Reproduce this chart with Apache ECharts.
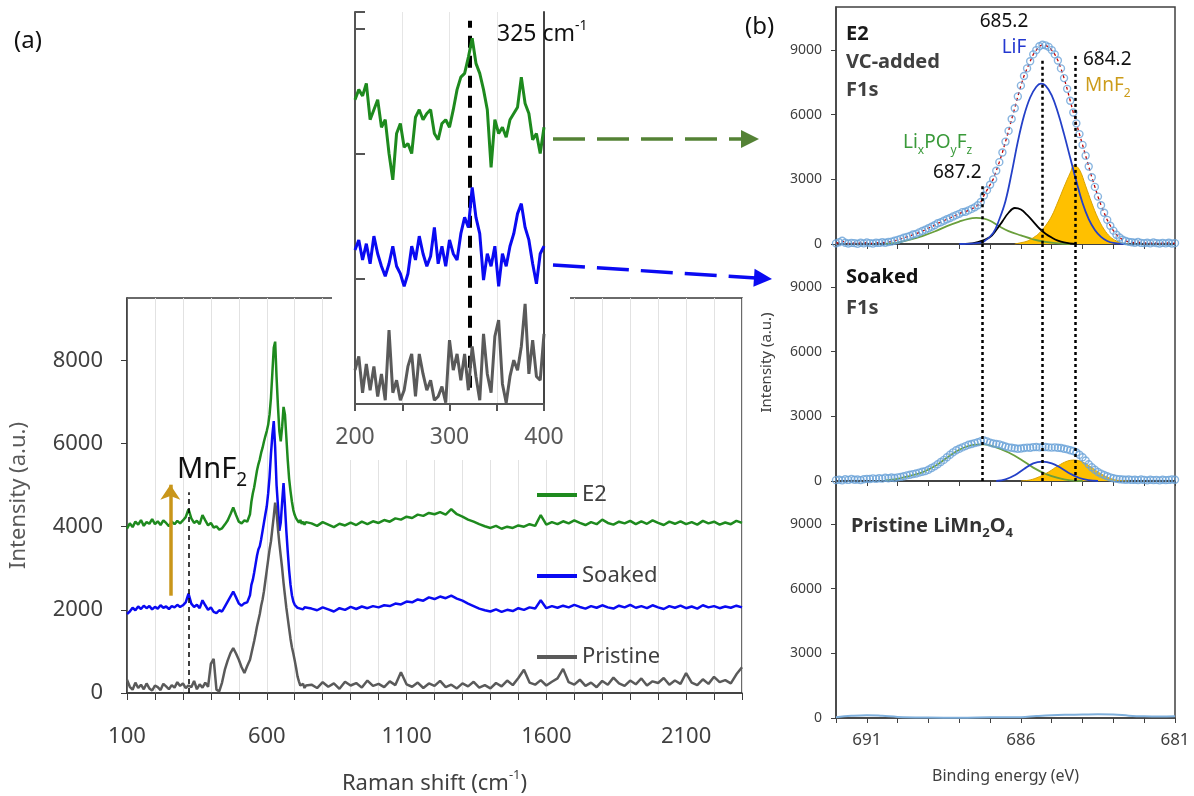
<!DOCTYPE html>
<html>
<head>
<meta charset="utf-8">
<title>Raman / F1s XPS</title>
<script src="https://cdn.jsdelivr.net/npm/echarts@6/dist/echarts.min.js"></script>
<style>
html, body { margin: 0; padding: 0; background: #fff; }
#chart { width: 1194px; height: 796px; }
</style>
</head>
<body>
<div id="chart"></div>
<script>
// sampling grids
function seq(from, to, step) {
  const out = []
  for (let v = from; v <= to + 1e-9; v += step) out.push(Math.round(v * 100) / 100)
  return out
}
const ramanShift = [].concat(seq(100, 540, 10), seq(545, 740, 5), seq(760, 2300, 20))
const insetShift = seq(200, 400, 4)
const bindingEnergy = seq(0, 110, 1).map(i => (6920 - i * 1) / 10)

// Raman intensities, (a) main plot: low range / Mn-O band / high range
const e2Low = [3950, 4080, 3990, 4120, 4050, 4160, 4020, 4110, 4070, 4180,
  4060, 4130, 4040, 4150, 4090, 4010, 4120, 4060, 4140, 4080,
  4150, 4230, 4420, 4200, 4090, 4140, 4060, 4280, 4150, 4030,
  4090, 3980, 4010, 3930, 3960, 4050, 4150, 4300, 4460, 4280,
  4120, 4080, 4150, 4120, 4300]
const e2Band = [4600, 4800, 4950, 5150, 5350, 5500, 5620, 5780, 5900, 6050,
  6180, 6300, 6450, 6700, 7100, 7700, 8300, 8450, 7600, 6900,
  6300, 6050, 6400, 6880, 6700, 6150, 5600, 5150, 4850, 4600,
  4400, 4280, 4200, 4150, 4100, 4160, 4070, 4120, 4050, 4110]
const e2High = [4080, 4020, 4110, 4050, 3990, 4070, 4030, 4100, 4040, 4120,
  4060, 4130, 4090, 4160, 4120, 4200, 4170, 4240, 4210, 4290,
  4260, 4330, 4300, 4350, 4290, 4420, 4300, 4240, 4170, 4120,
  4060, 4010, 3970, 4020, 3950, 4000, 3970, 4030, 4000, 4060,
  4020, 4280, 4050, 4110, 4060, 4130, 4080, 4150, 4090, 4040,
  4110, 4060, 4170, 4090, 4050, 4120, 4080, 4140, 4060, 4130,
  4070, 4150, 4090, 4040, 4120, 4070, 4130, 4060, 4110, 4050,
  4140, 4080, 4120, 4050, 4100, 4060, 4140, 4090]

const soakedLow = [1900, 1960, 2050, 1990, 2080, 2020, 2100, 2040, 2090, 2010,
  2070, 2030, 2110, 2050, 2080, 2020, 2090, 2060, 2120, 2070,
  2110, 2180, 2390, 2150, 2070, 2120, 2040, 2230, 2110, 2000,
  2060, 1950, 1920, 1990, 1960, 2080, 2200, 2320, 2440, 2300,
  2150, 2100, 2160, 2180, 2350]
const soakedBand = [2600, 2720, 2900, 3100, 3300, 3450, 3530, 3700, 3900, 4100,
  4300, 4490, 4800, 5200, 5750, 6200, 6540, 5900, 5000, 4500,
  3900, 4100, 4600, 5050, 4500, 3900, 3400, 2950, 2600, 2350,
  2200, 2120, 2080, 2050, 2090, 2030, 2070, 2010, 2060, 2040]
const soakedHigh = [2030, 1990, 2060, 2010, 1960, 2040, 2000, 2070, 2020, 2080,
  2040, 2090, 2060, 2110, 2090, 2150, 2130, 2200, 2180, 2250,
  2220, 2300, 2260, 2320, 2280, 2340, 2270, 2220, 2150, 2090,
  2030, 1990, 1960, 2010, 1950, 2000, 1970, 2040, 2000, 2060,
  2030, 2230, 2040, 2090, 2050, 2100, 2060, 2120, 2070, 2030,
  2090, 2050, 2110, 2060, 2030, 2100, 2060, 2120, 2050, 2090,
  2040, 2110, 2060, 2020, 2090, 2050, 2100, 2040, 2080, 2030,
  2110, 2060, 2090, 2040, 2080, 2050, 2100, 2060]

const pristineLow = [320, 150, 80, 250, 120, 200, 90, 230, 110, 60,
  180, 140, 70, 220, 160, 90, 190, 130, 260, 170,
  230, 120, 180, 140, 290, 90, 210, 130, 250, 150,
  700, 820, 80, 40, 250, 560, 780, 960, 1080, 950,
  800, 620, 480, 650, 800]
const pristineBand = [950, 1100, 1250, 1420, 1600, 1750, 1900, 2100, 2250, 2450,
  2700, 2950, 3200, 3450, 3650, 3950, 4250, 4580, 4350, 3950,
  3600, 3300, 3000, 2650, 2350, 2050, 1800, 1550, 1300, 1100,
  950, 780, 600, 400, 280, 180, 150, 220, 120, 180]
const pristineHigh = [200, 120, 260, 150, 230, 100, 270, 180, 240, 130,
  300, 170, 220, 140, 280, 190, 500, 210, 150, 250,
  120, 230, 170, 290, 140, 200, 110, 230, 160, 270,
  130, 190, 110, 240, 160, 300, 190, 360, 560, 250,
  200, 310, 180, 270, 350, 580, 260, 200, 320, 170,
  250, 140, 290, 200, 370, 230, 170, 300, 210, 350,
  180, 280, 240, 360, 200, 300, 220, 480, 250, 190,
  330, 220, 390, 260, 310, 230, 450, 620]

// inset 200-400 cm-1 (offset, arbitrary units)
const insetE2 = [2.43, 2.51, 2.46, 2.56, 2.27, 2.35, 2.43, 2.21, 2.27, 2.00,
  1.79, 2.16, 2.24, 2.05, 2.08, 2.00, 2.29, 2.35, 2.27, 2.32,
  2.35, 2.16, 2.11, 2.24, 2.27, 2.21, 2.35, 2.51, 2.61, 2.64,
  2.77, 2.92, 2.72, 2.64, 2.51, 2.35, 1.89, 2.27, 2.16, 2.21,
  2.13, 2.27, 2.32, 2.37, 2.61, 2.40, 2.32, 2.11, 2.16, 2.00, 2.21]
const insetSoaked = [1.23, 1.31, 1.15, 1.28, 1.12, 1.34, 1.20, 1.10, 1.02, 1.12,
  1.26, 1.10, 1.04, 0.94, 1.04, 1.26, 1.15, 1.34, 1.20, 1.10,
  1.18, 1.41, 1.12, 1.26, 1.10, 1.31, 1.20, 1.15, 1.36, 1.49,
  1.41, 1.73, 1.49, 1.36, 0.99, 1.20, 1.10, 1.26, 0.94, 1.20,
  1.10, 1.26, 1.36, 1.52, 1.60, 1.41, 1.31, 1.12, 0.96, 1.20, 1.26]
const insetPristine = [0.27, 0.38, 0.09, 0.32, 0.11, 0.30, 0.06, 0.24, 0.03, 0.59,
  0.09, 0.19, 0.03, 0.11, 0.30, 0.40, 0.06, 0.40, 0.24, 0.11,
  0.19, 0.03, 0.06, 0.14, 0.01, 0.51, 0.27, 0.40, 0.19, 0.40,
  0.11, 0.46, 0.22, 0.03, 0.56, 0.24, 0.09, 0.54, 0.67, 0.16,
  0.01, 0.22, 0.35, 0.27, 0.46, 0.80, 0.24, 0.51, 0.22, 0.19, 0.56]

// F1s XPS, measured points (692.0 -> 681.0 eV, 0.1 eV step)
const e2F1s = [30, 80, 150, 60, 20, 50, 40, 10, 60, 30,
  70, 40, 20, 60, 50, 80, 60, 90, 110, 150,
  190, 240, 290, 330, 370, 440, 470, 540, 600, 660,
  730, 800, 870, 960, 1010, 1080, 1150, 1210, 1280, 1340,
  1400, 1480, 1500, 1560, 1630, 1700, 1800, 1950, 2250, 2500,
  2750, 3000, 3400, 3800, 4250, 4750, 5250, 5800, 6300, 6850,
  7350, 7800, 8150, 8480, 8800, 9000, 9180, 9250, 9220, 9150,
  9000, 8800, 8520, 8150, 7700, 7200, 6650, 6100, 5600, 5100,
  4600, 4100, 3600, 3100, 2650, 2200, 1800, 1450, 1120, 850,
  620, 430, 300, 200, 140, 100, 80, 60, 90, 50,
  40, 60, 30, 70, 40, 20, 50, 30, 60, 20, 40]
const soakedF1s = [40, 60, 30, 80, 50, 90, 60, 70, 40, 80,
  100, 90, 120, 100, 130, 110, 150, 130, 160, 140,
  170, 190, 220, 260, 290, 320, 350, 390, 430, 460,
  520, 600, 680, 780, 880, 980, 1100, 1220, 1330, 1430,
  1500, 1560, 1620, 1680, 1720, 1760, 1800, 1850, 1880, 1840,
  1780, 1740, 1720, 1700, 1650, 1600, 1560, 1540, 1520, 1500,
  1510, 1530, 1550, 1540, 1570, 1580, 1560, 1570, 1580, 1560,
  1550, 1560, 1540, 1530, 1500, 1470, 1430, 1390, 1320, 1220,
  1100, 950, 780, 640, 520, 420, 340, 280, 220, 170,
  130, 100, 80, 70, 60, 70, 50, 60, 40, 70,
  50, 30, 60, 40, 50, 30, 60, 40, 50, 70, 60]
const pristineF1s = [[692, 40], [691.5, 100], [691, 130], [690.5, 100], [690, 50], [689, 20], [688, 10],
  [687, 30], [686, 40], [685.5, 90], [685, 130], [684.5, 150], [684, 160], [683.5, 170],
  [683, 160], [682.5, 110], [682, 80], [681.5, 70], [681, 80]]

// fitted components
const e2LiF = [[688.0, 0], [687.5, 30], [687.2, 120], [686.9, 510], [686.7, 1150], [686.5, 2000], [686.3, 3300],
  [686.1, 4750], [685.9, 5950], [685.7, 6800], [685.5, 7300], [685.35, 7440], [685.2, 7350], [685.0, 6900],
  [684.8, 6100], [684.6, 5100], [684.4, 4000], [684.2, 2900], [684.0, 1900], [683.8, 1150], [683.6, 650],
  [683.4, 330], [683.2, 140], [683.0, 50], [682.6, 0]]
const e2MnF2 = [[686.2, 0], [686.0, 60], [685.8, 130], [685.6, 290], [685.4, 510], [685.2, 850], [685.0, 1300],
  [684.8, 1950], [684.6, 2650], [684.4, 3300], [684.27, 3660], [684.1, 3450], [683.9, 2700], [683.7, 1900],
  [683.5, 1200], [683.3, 680], [683.1, 330], [682.9, 140], [682.7, 40], [682.5, 0]]
const e2Other = [[687.8, 0], [687.4, 90], [687.0, 330], [686.8, 650], [686.6, 1050], [686.4, 1450], [686.2, 1670],
  [686.0, 1600], [685.8, 1350], [685.6, 1040], [685.4, 720], [685.2, 480], [685.0, 300], [684.8, 160],
  [684.6, 80], [684.2, 0]]
const e2LiPOF = [[690.4, 0], [690.0, 60], [689.6, 200], [689.2, 370], [688.8, 580], [688.4, 830], [688.0, 1040],
  [687.7, 1170], [687.45, 1210], [687.2, 1180], [687.0, 1080], [686.7, 820], [686.4, 600], [686.0, 400],
  [685.6, 220], [685.2, 100], [684.8, 30], [684.4, 0]]
const soakedLiPOF = [[690.4, 30], [690.0, 100], [689.6, 240], [689.2, 400], [688.8, 680], [688.4, 1080],
  [688.0, 1450], [687.6, 1660], [687.2, 1700], [686.8, 1560], [686.4, 1320], [686.0, 1000], [685.6, 620],
  [685.2, 330], [684.8, 140], [684.4, 30], [684.0, 0]]
const soakedLiF = [[686.8, 0], [686.5, 80], [686.2, 270], [685.9, 560], [685.6, 820], [685.3, 895], [685.0, 820],
  [684.7, 600], [684.4, 340], [684.1, 140], [683.8, 40], [683.5, 0]]
const soakedMnF2 = [[686.0, 0], [685.7, 50], [685.4, 200], [685.1, 420], [684.8, 700], [684.5, 920], [684.27, 970],
  [684.0, 880], [683.7, 620], [683.4, 330], [683.1, 120], [682.8, 20], [682.5, 0]]

const peakLines = [687.25, 685.3, 684.25]
const peakLineTops = [2680, 8500, 8730]

const e2Raman = [].concat(e2Low, e2Band, e2High)
const soakedRaman = [].concat(soakedLow, soakedBand, soakedHigh)
const pristineRaman = [].concat(pristineLow, pristineBand, pristineHigh)

const FONT = 'Noto Sans'
const DARK = '#404040'
const GREEN = '#1e8a1e'
const BLUE = '#0a0af2'
const GREY = '#5a5a5a'
const GOLD = '#cc9c1a'
const PT_BLUE = '#6aa3d8'

const zip = (xs, ys) => xs.map((x, i) => [x, ys[i]])
const plain = v => String(v)

const chart = echarts.init(document.getElementById('chart'))

function xpsX(gridIndex, last) {
  return {
    type: 'value', gridIndex: gridIndex, min: 681, max: 692, interval: 1, inverse: true,
    axisLine: { show: true, lineStyle: { color: DARK, width: 1.5 } },
    axisTick: { show: true, length: 5, lineStyle: { color: DARK } },
    axisLabel: {
      show: last, fontSize: 17, color: DARK, margin: 14,
      formatter: v => ((v - 681) % 5 === 0 ? String(v) : '')
    },
    splitLine: { show: false },
    name: last ? 'Binding energy (eV)' : '',
    nameLocation: 'middle', nameGap: 50,
    nameTextStyle: { fontSize: 16, color: DARK }
  }
}
function xpsY(gridIndex, named) {
  return {
    type: 'value', gridIndex: gridIndex, min: 0, max: 11000, interval: 3000,
    axisLine: { show: true, lineStyle: { color: DARK, width: 1.5 } },
    axisTick: { show: true, length: 5, lineStyle: { color: DARK } },
    axisLabel: { fontSize: 14, color: DARK, margin: 14, showMaxLabel: false, formatter: plain },
    splitLine: { show: false },
    name: named ? 'Intensity (a.u.)' : '',
    nameLocation: 'middle', nameGap: 62,
    nameTextStyle: { fontSize: 15, color: DARK }
  }
}
function comp(xi, data, color, extra) {
  return Object.assign({
    type: 'line', xAxisIndex: xi, yAxisIndex: xi + 1, data: data, symbol: 'none', smooth: 0.4,
    lineStyle: { color: color, width: 1.8 }, z: 3
  }, extra || {})
}
function dotted(tops) {
  return {
    silent: true, symbol: ['none', 'none'], label: { show: false },
    lineStyle: { color: '#000', width: 2.5, type: [3, 3] },
    data: peakLines.map((x, i) => [{ coord: [x, tops[i]] }, { coord: [x, 0] }])
  }
}
function txt(x, y, text, size, color, extra) {
  return {
    type: 'text', x: x, y: y, z: 30,
    style: Object.assign({
      text: text, fill: color, fontSize: size, fontFamily: FONT,
      align: 'left', verticalAlign: 'middle'
    }, extra || {})
  }
}
function subRich(size, color, weight) {
  return { s: { fontSize: size, fill: color, color: color, fontFamily: FONT, fontWeight: weight || 'normal', verticalAlign: 'bottom', lineHeight: 28 } }
}
function box(left, top, width, height, framed) {
  return {
    left: left, top: top, width: width, height: height, outerBoundsMode: 'none',
    show: framed, borderColor: DARK, borderWidth: 1.5
  }
}

const option = {
  animation: false,
  textStyle: { fontFamily: FONT },
  grid: [
    Object.assign(box(127, 298, 615, 395, true), { borderColor: '#3a3a3a' }),
    box(355, 12, 189, 392, false),
    box(836, 7, 339, 237, true),
    box(836, 244, 339, 237, true),
    box(836, 481, 339, 237, true)
  ],
  legend: {
    data: ['E2', 'Soaked', 'Pristine'],
    orient: 'vertical', left: 532, top: 477,
    icon: 'rect', itemWidth: 40, itemHeight: 4, itemGap: 55,
    selectedMode: false,
    textStyle: { fontSize: 22, color: DARK, lineHeight: 26 }
  },
  xAxis: [
    {
      type: 'value', gridIndex: 0, min: 100, max: 2300, interval: 100,
      axisLine: { show: true, lineStyle: { color: '#3a3a3a', width: 1.5 } },
      axisTick: { show: true, length: 7, lineStyle: { color: '#3a3a3a' } },
      axisLabel: { fontSize: 22, color: DARK, margin: 33, formatter: v => ((v - 100) % 500 === 0 ? String(v) : '') },
      splitLine: { show: true, lineStyle: { color: '#e2e2e2', width: 1 } },
      name: 'Raman shift (cm{sup|-1})', nameLocation: 'middle', nameGap: 76,
      nameTextStyle: {
        fontSize: 22, color: DARK, lineHeight: 30,
        rich: { sup: { fontSize: 13, color: DARK, verticalAlign: 'top', lineHeight: 30 } }
      }
    },
    {
      type: 'value', gridIndex: 1, min: 200, max: 400, interval: 50, z: 4,
      axisLine: { show: true, lineStyle: { color: '#555', width: 2 } },
      axisTick: { show: true, length: 7, lineStyle: { color: '#555', width: 2 } },
      axisLabel: { fontSize: 23, color: '#595959', margin: 22, formatter: v => (v % 100 === 0 ? String(v) : '') },
      splitLine: { show: true, lineStyle: { color: '#e6e6e6' } }
    },
    xpsX(2, false), xpsX(3, false), xpsX(4, true)
  ],
  yAxis: [
    {
      type: 'value', gridIndex: 0, min: 0, max: 9500, interval: 2000,
      axisLine: { show: true, lineStyle: { color: '#3a3a3a', width: 1.5 } },
      axisTick: { show: true, length: 6, lineStyle: { color: '#3a3a3a' } },
      axisLabel: { fontSize: 22, color: DARK, margin: 24, showMaxLabel: false, formatter: plain },
      splitLine: { show: false },
      name: 'Intensity (a.u.)', nameLocation: 'middle', nameGap: 97,
      nameTextStyle: { fontSize: 22, color: '#595959' }
    },
    {
      type: 'value', gridIndex: 1, min: 0, max: 3.13, interval: 1, z: 4,
      axisLine: { show: true, lineStyle: { color: '#555', width: 2 } },
      axisTick: { show: true, inside: true, length: 10, lineStyle: { color: '#555', width: 2 } },
      axisLabel: { show: false },
      splitLine: { show: false }
    },
    {
      type: 'value', gridIndex: 1, position: 'right', min: 0, max: 3.13, z: 4,
      axisLine: { show: true, lineStyle: { color: '#444', width: 2 } },
      axisTick: { show: false }, axisLabel: { show: false }, splitLine: { show: false }
    },
    xpsY(2, false), xpsY(3, true), xpsY(4, false)
  ],
  graphic: { elements: [] },
  series: []
}

// (a) main Raman spectra
option.series.push(
  {
    name: 'E2', type: 'line', xAxisIndex: 0, yAxisIndex: 0, data: zip(ramanShift, e2Raman),
    symbol: 'none', color: GREEN, lineStyle: { color: GREEN, width: 2.5 },
    markLine: {
      silent: true, symbol: ['none', 'arrow'], symbolSize: 15, label: { show: false },
      lineStyle: { color: '#c9961a', width: 3.5, type: 'solid' },
      data: [[{ coord: [255, 2340] }, { coord: [255, 5010] }]]
    }
  },
  {
    name: 'Soaked', type: 'line', xAxisIndex: 0, yAxisIndex: 0, data: zip(ramanShift, soakedRaman),
    symbol: 'none', color: BLUE, lineStyle: { color: BLUE, width: 2.5 }
  },
  {
    name: 'Pristine', type: 'line', xAxisIndex: 0, yAxisIndex: 0, data: zip(ramanShift, pristineRaman),
    symbol: 'none', color: GREY, lineStyle: { color: GREY, width: 2.5 },
    markLine: {
      silent: true, symbol: ['none', 'none'], label: { show: false },
      lineStyle: { color: '#000', width: 1.5, type: [5, 4] },
      data: [[{ coord: [322, 0] }, { coord: [322, 4830] }]]
    }
  }
)

// inset
option.series.push(
  {
    type: 'line', xAxisIndex: 1, yAxisIndex: 1, data: zip(insetShift, insetPristine), symbol: 'none',
    lineStyle: { color: GREY, width: 3 }, z: 5
  },
  {
    type: 'line', xAxisIndex: 1, yAxisIndex: 1, data: zip(insetShift, insetSoaked), symbol: 'none',
    lineStyle: { color: BLUE, width: 3 }, z: 5
  },
  {
    type: 'line', xAxisIndex: 1, yAxisIndex: 1, data: zip(insetShift, insetE2), symbol: 'none',
    lineStyle: { color: GREEN, width: 3 }, z: 5,
    markLine: {
      silent: true, symbol: ['none', 'none'], label: { show: false },
      lineStyle: { color: '#000', width: 4, type: [12, 8] },
      data: [[{ coord: [321, 0.13] }, { coord: [321, 3.06] }]]
    }
  }
)

// (b) XPS F1s
option.series.push(
  comp(2, zip(bindingEnergy, e2F1s), '#c00000', { smooth: false, lineStyle: { color: '#c00000', width: 1.3, type: [3, 3] }, z: 2 }),
  comp(2, e2LiPOF, '#6a9f3c'),
  comp(2, e2Other, '#000'),
  comp(2, e2MnF2, '#d9a300', { areaStyle: { color: '#ffc000', opacity: 1 }, lineStyle: { color: '#d9a300', width: 1 } }),
  comp(2, e2LiF, '#2440c8'),
  {
    type: 'scatter', xAxisIndex: 2, yAxisIndex: 3, data: zip(bindingEnergy, e2F1s),
    symbol: 'circle', symbolSize: 7, z: 4,
    itemStyle: { color: 'rgba(255,255,255,0)', borderColor: PT_BLUE, borderWidth: 1.4 },
    markLine: dotted(peakLineTops)
  },
  comp(3, soakedLiPOF, '#6a9f3c'),
  comp(3, soakedMnF2, '#d9a300', { areaStyle: { color: '#ffc000', opacity: 1 }, lineStyle: { color: '#d9a300', width: 1 } }),
  comp(3, soakedLiF, '#2440c8'),
  {
    type: 'scatter', xAxisIndex: 3, yAxisIndex: 4, data: zip(bindingEnergy, soakedF1s),
    symbol: 'circle', symbolSize: 7, z: 4,
    itemStyle: { color: 'rgba(255,255,255,0)', borderColor: PT_BLUE, borderWidth: 1.4 },
    markLine: dotted([11000, 11000, 11000])
  },
  comp(4, pristineF1s, '#7fb0dd', { lineStyle: { color: '#7fb0dd', width: 2 } })
)

// white backdrop of the inset, arrows and annotations
const g = option.graphic.elements
g.push(
  { type: 'rect', shape: { x: 332, y: 0, width: 238, height: 460 }, style: { fill: '#fff' }, z: 3, silent: true },
  { type: 'line', shape: { x1: 553, y1: 139, x2: 743, y2: 139 }, style: { stroke: '#548235', lineWidth: 3.5, lineDash: [32, 12] }, z: 20 },
  { type: 'polygon', shape: { points: [[741, 130], [759, 139], [741, 148]] }, style: { fill: '#548235' }, z: 20 },
  { type: 'line', shape: { x1: 553, y1: 265, x2: 756, y2: 278 }, style: { stroke: BLUE, lineWidth: 3.5, lineDash: [32, 12] }, z: 20 },
  { type: 'polygon', shape: { points: [[754.6, 268.8], [772, 279], [753.4, 286.8]] }, style: { fill: BLUE }, z: 20 },
  txt(14, 41, '(a)', 24, '#111'),
  txt(745, 27, '(b)', 24, '#111'),
  txt(497, 34, '325 cm{u|-1}', 23, '#111', { rich: { u: { fontSize: 14, fill: '#111', fontFamily: FONT, verticalAlign: 'top', lineHeight: 30 } }, lineHeight: 30 }),
  txt(177, 470, 'MnF{s|2}', 29, '#111', { rich: { s: { fontSize: 19, fill: '#111', fontFamily: FONT, verticalAlign: 'bottom', lineHeight: 40 } }, lineHeight: 40 }),
  txt(846, 34.5, 'E2', 20, '#1a1a1a', { fontWeight: 'bold' }),
  txt(846, 62.5, 'VC-added', 20, DARK, { fontWeight: 'bold' }),
  txt(846, 90.5, 'F1s', 20, DARK, { fontWeight: 'bold' }),
  txt(1004, 22, '685.2', 19, '#111', { align: 'center' }),
  txt(1014, 48, 'LiF', 19, '#2438d0', { align: 'center' }),
  txt(1083, 60, '684.2', 19, '#111'),
  txt(1085, 86, 'MnF{s|2}', 19, GOLD, { rich: subRich(12, GOLD), lineHeight: 28 }),
  txt(903, 143, 'Li{s|x}PO{s|y}F{s|z}', 19, '#3a9a3a', { rich: subRich(12, '#3a9a3a'), lineHeight: 28 }),
  txt(933, 173, '687.2', 19, '#111'),
  txt(846, 277, 'Soaked', 20, '#111', { fontWeight: 'bold' }),
  txt(846, 308, 'F1s', 20, DARK, { fontWeight: 'bold' }),
  txt(851, 526, 'Pristine LiMn{s|2}O{s|4}', 20, '#333', { fontWeight: 'bold', rich: subRich(13, '#333', 'bold'), lineHeight: 28 })
)

chart.setOption(option)
window.addEventListener('resize', () => chart.resize())
</script>
</body>
</html>
